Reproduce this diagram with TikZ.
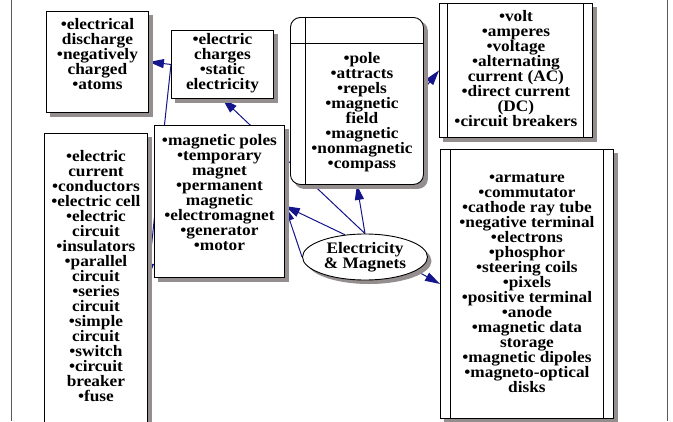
\documentclass[tikz,border=0pt]{standalone}
\usepackage{fontspec}
\setmainfont{Liberation Serif}[FakeStretch=1.08]
\usetikzlibrary{shapes.geometric,arrows.meta}
\definecolor{linkblue}{HTML}{14148C}
\definecolor{shadowgray}{HTML}{948E8E}
\definecolor{framegray}{HTML}{5A5A5A}
\pgfdeclarelayer{behind}
\pgfdeclarelayer{shade}
\pgfsetlayers{behind,shade,main}
% width, height, first baseline, lines
\newcommand{\topiclines}[4]{\parbox[t][#2pt][t]{#1pt}{\centering\rule{0pt}{#3pt}#4}}
\tikzset{
  topic/.style={draw=black, fill=white, line width=0.9pt, inner sep=0pt, anchor=north west,
    font=\bfseries\fontsize{16}{15}\selectfont},
  hub/.style={ellipse, draw=black, fill=white, line width=0.9pt, inner sep=0pt,
    minimum width=125pt, minimum height=46pt, align=center,
    font=\bfseries\fontsize{16}{15}\selectfont},
  link/.style={draw=linkblue, line width=1pt, -{Triangle[length=15pt,width=9pt]}},
  rail/.style={draw=black, line width=0.9pt},
  shade/.style={fill=shadowgray},
}

\begin{document}
\begin{tikzpicture}[x=1pt,y=-1pt]
\useasboundingbox (0,0) rectangle (673,421);
\draw[framegray, line width=1pt] (11,0) -- (11,421);
\draw[framegray, line width=1pt] (667,0) -- (667,421);

% topic boxes
\node[topic] (A) at (46,11) {\topiclines{102}{101}{18}{•electrical\\discharge\\•negatively\\charged\\•atoms}};
\node[topic] (B) at (171,30) {\topiclines{102}{68}{14}{•electric\\charges\\•static\\electricity}};
\node[topic, rounded corners=10pt] (C) at (290,17) {\parbox[t][167pt][t]{133pt}{\centering\leftskip=10pt plus 1fil\rule{0pt}{45.7pt}•pole\\•attracts\\•repels\\•magnetic\\field\\•magnetic\\•nonmagnetic\\•compass}};
\node[topic] (D) at (439,3) {\topiclines{153}{134}{17.7}{•volt\\•amperes\\•voltage\\•alternating\\current (AC)\\•direct current\\(DC)\\•circuit breakers}};
\node[topic] (E) at (440,149) {\topiclines{173}{269}{32.7}{•armature\\•commutator\\•cathode ray tube\\•negative terminal\\•electrons\\•phosphor\\•steering coils\\•pixels\\•positive terminal\\•anode\\•magnetic data\\storage\\•magnetic dipoles\\•magneto-optical\\disks}};
\node[topic] (F) at (44,133) {\topiclines{103}{290}{27.7}{•electric\\current\\•conductors\\•electric cell\\•electric\\circuit\\•insulators\\•parallel\\circuit\\•series\\circuit\\•simple\\circuit\\•switch\\•circuit\\breaker\\•fuse}};
\node[topic] (G) at (154,125) {\topiclines{130}{152}{20}{•magnetic poles\\•temporary\\magnet\\•permanent\\magnetic\\•electromagnet\\•generator\\•motor}};
\node[hub] (H) at (365,257) {Electricity\\\& Magnets};

% shadows
\begin{pgfonlayer}{shade}
\foreach \n in {A,B,D,E,F,G}
  \fill[shade] ([shift={(4,4)}]\n.north west) rectangle ([shift={(4,4)}]\n.south east);
\fill[shade, rounded corners=10pt] ([shift={(4,4)}]C.north west) rectangle ([shift={(4,4)}]C.south east);
\fill[shade] ([shift={(4,4)}]H.center) ellipse (62.5 and 23);
\end{pgfonlayer}

% inner rails
\draw[rail] ([xshift=15pt]C.north west) -- ([xshift=15pt]C.south west);
\draw[rail] ([yshift=-26pt]C.north west) -- ([yshift=-26pt]C.north east);
\draw[rail] ([xshift=8pt]D.north west) -- ([xshift=8pt]D.south west);
\draw[rail] ([xshift=-9pt]D.north east) -- ([xshift=-9pt]D.south east);
\draw[rail] ([xshift=10pt]E.north west) -- ([xshift=10pt]E.south west);
\draw[rail] ([xshift=-10pt]E.north east) -- ([xshift=-10pt]E.south east);

% links
\begin{pgfonlayer}{behind}
\draw[link] (B.west) -- (A.east);
\draw[link] (B.west) -- (F.east);
\draw[link] (H.north) -- (B.south);
\draw[link] (H.north) -- (C.south);
\draw[link] (H.132) -- (G.-4);
\draw[link] (H.west) -- (G.-4);
\draw[link] (C.10) -- (D.west);
\draw[link] (H.-15) -- (E.west);
\end{pgfonlayer}
\end{tikzpicture}
\end{document}
